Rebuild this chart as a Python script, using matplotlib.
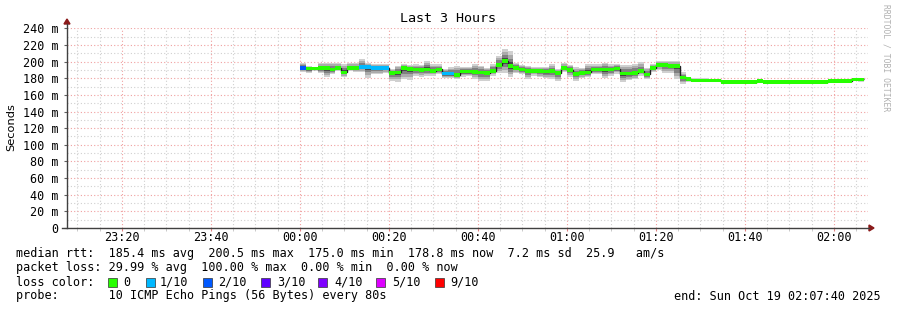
import numpy as np
import matplotlib
matplotlib.use("Agg")
import matplotlib.pyplot as plt
from matplotlib.patches import Rectangle, Polygon

# ---------------- data ----------------
step_min = 80 / 60.0          # SmokePing step: 80 s, first sample at 00:00
x_start, x_end = -52 - 1/3, 127 + 2/3   # minutes relative to 00:00 (23:07:40 .. 02:07:40)

median_ms = [192.5, 191.5, 191.5, 192, 192, 190.5, 192, 187, 192, 192,
             193.5, 193.5, 192.5, 192.5, 192.5, 186.5, 187, 192.5, 191, 190.5,
             190, 190.5, 189, 190.5, 185.5, 185.5, 184, 188, 188, 187.5,
             187, 186.5, 189, 196, 200.5, 194.5, 192.5, 190.5, 189, 189,
             189, 188, 188.5, 186.5, 192, 190, 185, 186.5, 187, 190.5,
             190.5, 190.5, 190.5, 191.5, 185.5, 185.5, 186.5, 189, 184.5, 192,
             196, 196, 194.5, 194.5, 181, 179, 177.3, 177.3, 177.3, 177.3,
             177.3, 175.3, 175.3, 175.3, 175.3, 175.3, 175.3, 177, 175.3, 175.3,
             175.3, 175.3, 175.3, 175.3, 175.3, 175.3, 175.3, 175.3, 175.3, 176.3,
             176.3, 176.3, 176.3, 178.5, 178.5]

smoke_up = [6, 3, 2, 6, 6, 8, 6, 10, 6, 6,
            10, 5, 5, 5, 5, 5, 8, 5, 5, 6,
            6, 10, 8, 6, 6, 8, 11, 5, 6, 10,
            8, 6, 8, 11, 15, 18, 6, 5, 6, 5,
            5, 6, 8, 5, 6, 6, 8, 6, 10, 6,
            6, 8, 6, 6, 10, 10, 11, 10, 8, 5,
            5, 5, 6, 6, 6, 3, 3, 3, 3, 1,
            0, 0, 0, 0, 0, 0, 0, 2.5, 0, 0,
            0, 0, 0, 3, 0, 0, 0, 0, 0, 0,
            0, 0, 0, 1.5, 1]

smoke_down = [5, 5, 2, 6, 11, 5, 3, 5, 3, 5,
              6, 13, 8, 8, 6, 10, 11, 14, 13, 8,
              8, 8, 6, 6, 5, 5, 5, 6, 5, 8,
              10, 10, 6, 10, 14, 13, 6, 6, 10, 6,
              8, 8, 10, 10, 5, 8, 8, 6, 6, 6,
              6, 10, 8, 6, 10, 8, 8, 6, 6, 5,
              6, 10, 8, 16, 8, 3, 1, 1, 1, 1,
              0, 0, 0, 0, 0, 0, 0, 0, 0, 0,
              0, 0, 0, 0, 0, 0, 0, 0, 0, 0,
              0, 0, 0, 2, 2.5]

lost_pings = [2, 0, 0, 0, 0, 0, 0, 0, 0, 0,
              1, 1, 1, 1, 1, 0, 0, 0, 0, 0,
              0, 0, 0, 0, 1, 1, 0, 0, 0, 0] + [0] * 65

loss_levels = [0, 1, 2, 3, 4, 5, 9]
loss_labels = ["0", "1/10", "2/10", "3/10", "4/10", "5/10", "9/10"]
loss_colors = ["#26ff00", "#00b8ff", "#0059ff", "#5e00ff", "#7e00ff", "#dd00ff", "#ff0000"]

x_tick_labels = ["23:20", "23:40", "00:00", "00:20", "00:40", "01:00", "01:20", "01:40", "02:00"]
x_tick_pos = [-40, -20, 0, 20, 40, 60, 80, 100, 120]
y_ticks = [0, 20, 40, 60, 80, 100, 120, 140, 160, 180, 200, 220, 240]

legend_lines = [
    "median rtt:  185.4 ms avg  200.5 ms max  175.0 ms min  178.8 ms now  7.2 ms sd  25.9   am/s",
    "packet loss: 29.99 % avg  100.00 % max  0.00 % min  0.00 % now",
    "loss color:",
    "probe:       10 ICMP Echo Pings (56 Bytes) every 80s",
]
end_text = "end: Sun Oct 19 02:07:40 2025"

# ---------------- figure ----------------
W, H = 897, 310
fig = plt.figure(figsize=(W / 100, H / 100), dpi=100)
fig.patch.set_facecolor("white")

def fx(px):
    return px / W

def fy(py):
    return 1 - py / H

ax_left, ax_right, ax_bottom, ax_top = 67, 868, 228, 28.3
ax = fig.add_axes([fx(ax_left), fy(ax_bottom), (ax_right - ax_left) / W, (ax_bottom - ax_top) / H])
ax.set_facecolor("white")
ax.set_xlim(x_start, x_end)
ax.set_ylim(0, 240)
for s in ax.spines.values():
    s.set_visible(False)

mono = "DejaVu Sans Mono"
fs = 8.5

# grid
ax.set_xticks(x_tick_pos)
ax.set_xticklabels(x_tick_labels, family=mono, fontsize=fs)
ax.set_xticks(np.arange(-50, 128, 5), minor=True)
ax.set_yticks(y_ticks)
ax.set_yticklabels(["0" if v == 0 else f"{v} m" for v in y_ticks], family=mono, fontsize=fs)
ax.set_yticks(np.arange(0, 241, 10), minor=True)
ax.set_axisbelow(True)
ax.grid(which="minor", color="#d0d0d0", linestyle=(0, (1, 2)), linewidth=0.8)
ax.grid(which="major", color="#f0a0a0", linestyle=(0, (1, 2)), linewidth=0.8)
ax.tick_params(axis="x", which="major", length=2, color="#e08080", pad=0.5, labelcolor="black")
ax.tick_params(axis="x", which="minor", length=2, color="#c0c0c0")
ax.tick_params(axis="y", which="major", length=2, color="#606060", pad=4, labelcolor="black")
ax.tick_params(axis="y", which="minor", length=0)

# smoke + median
n = len(median_ms)
edges = np.arange(n + 1) * step_min
left = edges[:-1]
med = np.array(median_ms)
up = np.array(smoke_up, dtype=float)
dn = np.array(smoke_down, dtype=float)

shades = [(1.0, "#d0d0d0"), (0.75, "#ababab"), (0.5, "#808080"), (0.25, "#484848")]
for frac, col in shades:
    ax.bar(left, (up + dn) * frac, bottom=med - dn * frac, width=step_min,
           align="edge", color=col, linewidth=0, zorder=2)

ax.stairs(med, edges, color="#202020", linewidth=1.0, baseline=None, zorder=3)

def loss_color(k):
    col = loss_colors[0]
    for lvl, c in zip(loss_levels, loss_colors):
        if k >= lvl:
            col = c
    return col

band = 2.2
ax.bar(left, 2 * band, bottom=med - band, width=step_min, align="edge",
       color=[loss_color(k) for k in lost_pings], linewidth=0, zorder=4)

# axes lines with arrows
axis_col = "#404040"
arrow_col = "#8b1a1a"
fig.add_artist(plt.Line2D([fx(67), fx(67)], [fy(228), fy(24)], transform=fig.transFigure,
                          color=axis_col, linewidth=1.0))
fig.add_artist(plt.Line2D([fx(62), fx(869)], [fy(228), fy(228)], transform=fig.transFigure,
                          color=axis_col, linewidth=1.0))
fig.add_artist(Polygon([[fx(64), fy(24)], [fx(70), fy(24)], [fx(67), fy(19)]], closed=True,
                       transform=fig.transFigure, color=arrow_col))
fig.add_artist(Polygon([[fx(869), fy(225)], [fx(869), fy(231)], [fx(874), fy(228)]], closed=True,
                       transform=fig.transFigure, color=arrow_col))

# titles
fig.text(fx(448), fy(19), "Last 3 Hours", family=mono, fontsize=9.6, ha="center", va="center")
fig.text(fx(11), fy(127), "Seconds", family="DejaVu Sans", fontsize=8.2, rotation=90,
         ha="center", va="center")
fig.text(fx(886), fy(4), "RRDTOOL / TOBI OETIKER", family=mono, fontsize=5.8, rotation=270,
         ha="center", va="top", color="#b0b0b0")

# legend
line_y = [254, 268, 282, 296]
for txt, y in zip(legend_lines, line_y):
    fig.text(fx(16), fy(y), txt, family=mono, fontsize=fs, ha="left", va="center")

sq_x = [108, 146, 203, 261, 318, 376, 435]
lab_x = [123, 160, 218, 277, 334, 392, 450]
for sx, lx, lab, col in zip(sq_x, lab_x, loss_labels, loss_colors):
    fig.add_artist(Rectangle((fx(sx), fy(286.5)), 9 / W, 9 / H, transform=fig.transFigure,
                             facecolor=col, edgecolor="#333333", linewidth=0.5))
    fig.text(fx(lx), fy(282), lab, family=mono, fontsize=fs, ha="left", va="center")

fig.text(fx(881), fy(296), end_text, family=mono, fontsize=fs, ha="right", va="center")

fig.savefig("out.png", dpi=100, facecolor="white")
